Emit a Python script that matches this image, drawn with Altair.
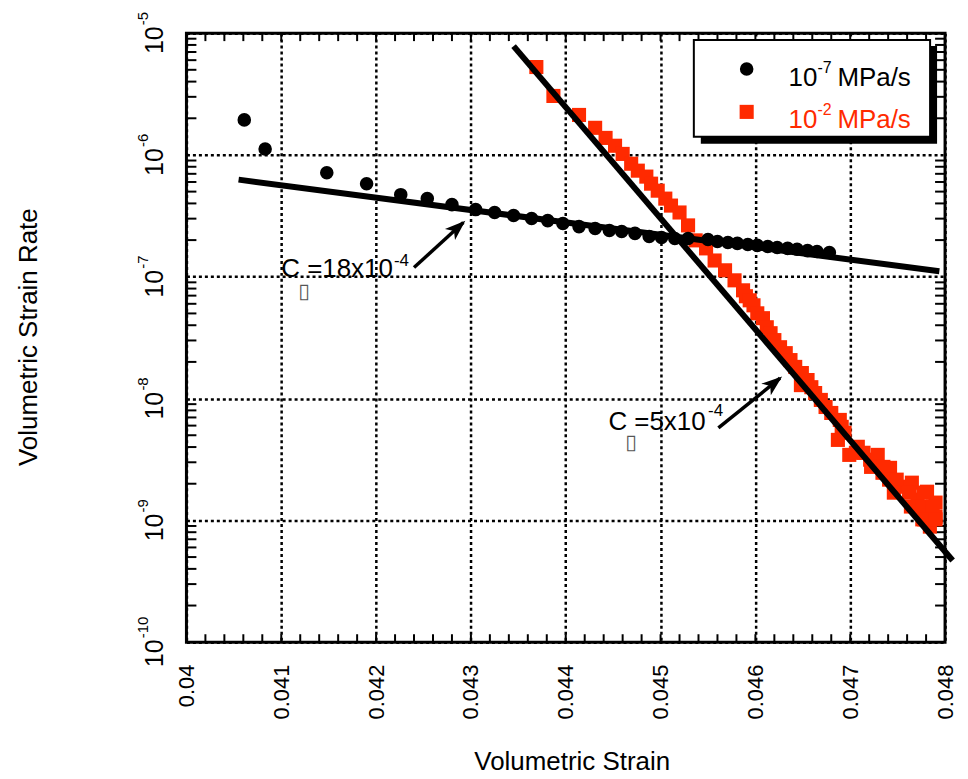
import altair as alt
import pandas as pd

FONT = "Liberation Sans"
RED = "#ff2a00"
W, H = 761, 611

# ---------------- data ----------------
slow_strain = [0.04061, 0.04083, 0.04148, 0.04190, 0.04226, 0.04254, 0.04280, 0.04305, 0.04325,
               0.04345, 0.04364, 0.04381, 0.04397, 0.04414, 0.04431, 0.04446, 0.04459, 0.04473,
               0.04488, 0.04501, 0.04515, 0.04529, 0.04550, 0.04560, 0.04571, 0.04581, 0.04592,
               0.04602, 0.04613, 0.04623, 0.04634, 0.04644, 0.04655, 0.04665, 0.04678]
slow_rate = [1.94e-6, 1.12e-6, 7.15e-7, 5.81e-7, 4.72e-7, 4.38e-7, 3.91e-7, 3.56e-7, 3.37e-7,
             3.18e-7, 3.01e-7, 2.89e-7, 2.74e-7, 2.58e-7, 2.49e-7, 2.40e-7, 2.35e-7, 2.27e-7,
             2.14e-7, 2.10e-7, 2.06e-7, 2.06e-7, 2.02e-7, 1.95e-7, 1.91e-7, 1.88e-7, 1.84e-7,
             1.81e-7, 1.77e-7, 1.74e-7, 1.71e-7, 1.68e-7, 1.64e-7, 1.61e-7, 1.58e-7]

fast_strain = [0.04369, 0.04387, 0.04414, 0.04431, 0.04442, 0.04452, 0.04460, 0.04469, 0.04476,
               0.04485, 0.04490, 0.04497, 0.04505, 0.04511, 0.04520, 0.04529, 0.04537, 0.04548,
               0.04557, 0.04568, 0.04578, 0.04587, 0.04590, 0.04594, 0.04598, 0.04602, 0.04608,
               0.04612, 0.04616, 0.04620, 0.04626, 0.04632, 0.04637, 0.04642, 0.04649, 0.04648,
               0.04655, 0.04663, 0.04669, 0.04674, 0.04680, 0.04687, 0.04689, 0.04694, 0.04699,
               0.04708, 0.04721, 0.04729, 0.04734, 0.04742, 0.04755, 0.04765, 0.04771, 0.04781,
               0.04781, 0.04790, 0.04790, 0.04776, 0.04784,
               0.04659, 0.04691, 0.04706, 0.04714, 0.04722, 0.04735, 0.04741, 0.04749, 0.04746,
               0.04762, 0.04777, 0.04764, 0.04776, 0.04787, 0.04778, 0.04790]
fast_rate = [5.27e-6, 3.05e-6, 2.13e-6, 1.67e-6, 1.38e-6, 1.19e-6, 1.02e-6, 8.47e-7, 7.43e-7,
             6.64e-7, 5.81e-7, 5.09e-7, 4.38e-7, 3.84e-7, 3.37e-7, 2.64e-7, 1.99e-7, 1.71e-7,
             1.36e-7, 1.13e-7, 9.35e-8, 7.74e-8, 6.92e-8, 6.41e-8, 5.83e-8, 5.01e-8, 4.57e-8,
             3.85e-8, 3.44e-8, 3.02e-8, 2.64e-8, 2.36e-8, 2.07e-8, 1.82e-8, 1.62e-8, 1.29e-8,
             1.42e-8, 1.11e-8, 9.75e-9, 8.53e-9, 7.62e-9, 4.58e-9, 6.68e-9, 5.24e-9, 3.45e-9,
             4.02e-9, 3.15e-9, 3.45e-9, 2.46e-9, 2.70e-9, 1.89e-9, 2.04e-9, 1.48e-9, 1.16e-9,
             1.72e-9, 1.40e-9, 1.07e-9, 1.02e-9, 8.89e-10,
             1.24e-8, 5.86e-9, 3.59e-9, 3.59e-9, 2.75e-9, 2.75e-9, 2.16e-9, 2.16e-9, 1.69e-9,
             1.69e-9, 1.69e-9, 1.30e-9, 1.30e-9, 1.30e-9, 1.02e-9, 1.02e-9]

fit_slow_strain = [0.04055, 0.04794]
fit_slow_rate = [6.27e-7, 1.11e-7]
fit_fast_strain = [0.04345, 0.04808]
fit_fast_rate = [7.83e-6, 4.69e-10]

arrow_slow_strain = [0.04240, 0.04292]
arrow_slow_rate = [1.19e-7, 2.79e-7]
arrow_fast_strain = [0.04561, 0.04626]
arrow_fast_rate = [5.74e-9, 1.47e-8]

ann_strain = [0.04100, 0.04445]
ann_rate = [1.0e-7, 5.53e-9]
ann_text = ["C =18x10", "C =5x10"]
ann_exp = ["-4", "-4"]

legend_labels = ["MPa/s", "MPa/s"]
legend_exps = ["-7", "-2"]

x_ticks = [0.040, 0.041, 0.042, 0.043, 0.044, 0.045, 0.046, 0.047, 0.048]
y_ticks = [1e-5, 1e-6, 1e-7, 1e-8, 1e-9, 1e-10]
y_exps = ["-5", "-6", "-7", "-8", "-9", "-10"]

x_title = "Volumetric Strain"
y_title = "Volumetric Strain Rate"

# ---------------- scales / axes ----------------
xs = alt.Scale(domain=[0.040, 0.048], nice=False, zero=False)
ys = alt.Scale(type="log", domain=[1e-10, 1e-5], nice=False)

grid_dash = [3, 3]
x_axis = alt.Axis(values=x_ticks, format="~g", labelAngle=270, labelAlign="right",
                  labelBaseline="middle", labelPadding=22, labelFontSize=22, labelFont=FONT,
                  labelColor="black", labelFlush=False, labelOverlap=False, ticks=False,
                  tickSize=0, domain=False, grid=True, gridColor="black", gridWidth=2.5,
                  gridDash=grid_dash, gridOpacity=1, title=None)
y_axis = alt.Axis(values=y_ticks, labels=False, ticks=False, tickSize=0, domain=False, grid=True,
                  gridColor="black", gridWidth=2.5, gridDash=grid_dash, gridOpacity=1, title=None)


def X(f="x"):
    return alt.X(f, type="quantitative", scale=xs, axis=x_axis)


def Y(f="y"):
    return alt.Y(f, type="quantitative", scale=ys, axis=y_axis)


def df(xv, yv):
    return pd.DataFrame({"x": xv, "y": yv})


one = pd.DataFrame({"a": [0]})


def ptext(s, x, y, size, color="black", align="left", angle=0):
    return alt.Chart(one).mark_text(text=s, font=FONT, fontSize=size, color=color,
                                    align=align, baseline="alphabetic", angle=angle
                                    ).encode(x=alt.value(x), y=alt.value(y))


base = alt.Chart(df(slow_strain, slow_rate)).mark_point(opacity=0).encode(x=X(), y=Y())

# inner ticks
x_minor = [round(0.0402 + 0.0002 * i, 5) for i in range(39)]
y_minor = [k * 10.0 ** e for e in range(-10, -5) for k in range(2, 10)]
xt = alt.Chart(pd.DataFrame({"x": x_minor}))
yt = alt.Chart(pd.DataFrame({"y": y_minor}))
ticks = [
    xt.mark_rule(color="black", strokeWidth=2).encode(x=X(), y=alt.value(H), y2=alt.value(H - 8)),
    xt.mark_rule(color="black", strokeWidth=2).encode(x=X(), y=alt.value(0), y2=alt.value(8)),
    yt.mark_rule(color="black", strokeWidth=2).encode(y=Y(), x=alt.value(0), x2=alt.value(10)),
    yt.mark_rule(color="black", strokeWidth=2).encode(y=Y(), x=alt.value(W), x2=alt.value(W - 10)),
]

fast_pts = alt.Chart(df(fast_strain, fast_rate)).mark_square(size=200, color=RED, opacity=1).encode(x=X(), y=Y())
slow_pts = alt.Chart(df(slow_strain, slow_rate)).mark_circle(size=185, color="black", opacity=1).encode(x=X(), y=Y())
fit_slow = alt.Chart(df(fit_slow_strain, fit_slow_rate)).mark_line(color="black", strokeWidth=6).encode(x=X(), y=Y())
fit_fast = alt.Chart(df(fit_fast_strain, fit_fast_rate)).mark_line(color="black", strokeWidth=6).encode(x=X(), y=Y())

HEAD = "M0.15,0 L-1,-0.42 L-0.7,0 L-1,0.42 Z"
arrows = []
for xv, yv, ang in [(arrow_slow_strain, arrow_slow_rate, 318), (arrow_fast_strain, arrow_fast_rate, 321)]:
    d = df(xv, yv)
    arrows.append(alt.Chart(d).mark_line(color="black", strokeWidth=3.5).encode(x=X(), y=Y()))
    arrows.append(alt.Chart(d.iloc[[1]]).mark_point(shape=HEAD, size=1300, filled=True, color="black",
                                                    opacity=1, angle=ang, strokeWidth=0).encode(x=X(), y=Y()))

ann_layers = []
for i, (sdx, sdy, tdy) in enumerate([(113, -11, 21), (100, -14, 19)]):
    d = pd.DataFrame({"x": [ann_strain[i]], "y": [ann_rate[i]], "t": [ann_text[i]], "e": [ann_exp[i]]})
    c = alt.Chart(d)
    ann_layers.append(c.mark_text(font=FONT, fontSize=26, align="left", baseline="alphabetic",
                                  color="black").encode(x=X(), y=Y(), text="t:N"))
    ann_layers.append(c.mark_text(font=FONT, fontSize=17, align="left", baseline="alphabetic",
                                  color="black", dx=sdx, dy=sdy).encode(x=X(), y=Y(), text="e:N"))
    ann_layers.append(c.mark_text(text="\u25af", font="DejaVu Sans", fontSize=21, align="left",
                                  baseline="alphabetic", color="#555555", dx=17, dy=tdy
                                  ).encode(x=X(), y=Y()))

# y tick labels (10 with superscript exponent), rotated
ylab = pd.DataFrame({"y": y_ticks, "e": y_exps})
ylab["n"] = ylab["e"].str.len()
ylab_layers = []
for short, d10, dexp in [(True, -21, 8), (False, -25, 4)]:
    sub = ylab[(ylab["n"] <= 2) == short]
    c = alt.Chart(sub)
    ylab_layers.append(c.mark_text(text="10", font=FONT, fontSize=25, angle=270, align="left",
                                   baseline="alphabetic", color="black", dx=d10, dy=-24
                                   ).encode(x=alt.value(0), y=Y()))
    ylab_layers.append(c.mark_text(font=FONT, fontSize=15, angle=270, align="left",
                                   baseline="alphabetic", color="black", dx=dexp, dy=-39
                                   ).encode(x=alt.value(0), y=Y(), text="e:N"))

# legend
legend = [
    alt.Chart(one).mark_rect(color="black").encode(x=alt.value(516), x2=alt.value(753),
                                                   y=alt.value(13), y2=alt.value(111)),
    alt.Chart(one).mark_rect(fill="white", stroke="black", strokeWidth=2).encode(
        x=alt.value(509), x2=alt.value(746), y=alt.value(7), y2=alt.value(104)),
    alt.Chart(one).mark_circle(size=185, color="black", opacity=1).encode(x=alt.value(562), y=alt.value(36)),
    alt.Chart(one).mark_square(size=200, color=RED, opacity=1).encode(x=alt.value(562), y=alt.value(79)),
    ptext("10", 604, 53, 26),
    ptext(legend_exps[0], 633, 40, 16),
    ptext(legend_labels[0], 653, 53, 26),
    ptext("10", 604, 95, 26, RED),
    ptext(legend_exps[1], 633, 82, 16, RED),
    ptext(legend_labels[1], 653, 95, 26, RED),
]

titles = [
    ptext(x_title, 387, 739, 26, align="center"),
    ptext(y_title, -150, 305, 26, align="center", angle=270),
]

frame = alt.Chart(one).mark_rect(filled=False, color="black", strokeWidth=3).encode(
    x=alt.value(0), x2=alt.value(W), y=alt.value(0), y2=alt.value(H))

chart = alt.layer(
    base, *ticks, fast_pts, slow_pts, fit_fast, fit_slow, *arrows, *ann_layers,
    *ylab_layers, *legend, *titles, frame
).properties(
    width=W, height=H,
    padding={"left": 179, "top": 24, "right": 15, "bottom": 134},
    autosize=alt.AutoSizeParams(type="none"),
).configure(font=FONT).configure_view(stroke="transparent")

chart.save("out.html", embed_options={"renderer": "svg", "actions": False})
